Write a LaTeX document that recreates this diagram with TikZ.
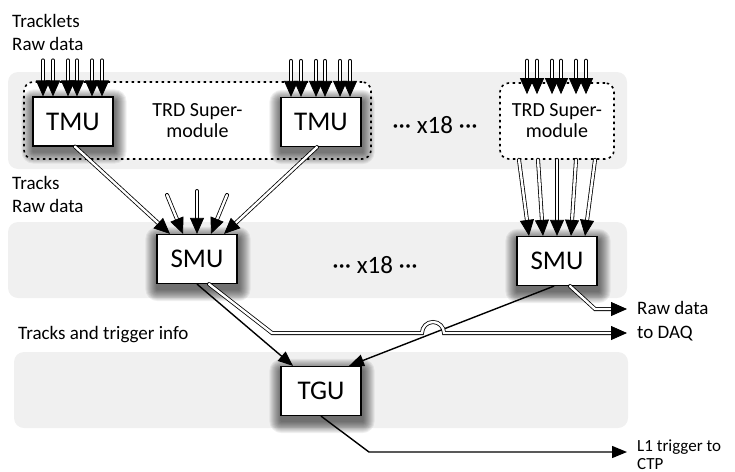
\documentclass[tikz,border=0pt]{standalone}
\usepackage{fontspec}
\setmainfont{Carlito}
\usetikzlibrary{arrows.meta, positioning, calc}

\pgfdeclarelayer{rows}
\pgfdeclarelayer{shade}
\pgfsetlayers{rows,shade,main}

\tikzset{
  band/.style={fill=gray!12, rounded corners=10pt},
  unit/.style={draw, line width=1.2pt, fill=white, minimum width=80pt,
    minimum height=49pt, inner sep=0pt, font=\fontsize{27}{30}\selectfont},
  supmod/.style={draw, line width=1.6pt, dash pattern=on 2.5pt off 3.5pt,
    fill=white, rounded corners=9pt, align=center, inner sep=0pt,
    font=\fontsize{20}{21}\selectfont},
  dbl/.style={double, line width=0.8pt, double distance=2.4pt, line cap=round,
    -{Triangle[length=16pt,width=14pt]}},
  sgl/.style={line width=1.4pt, -{Triangle[length=15pt,width=12pt]}},
  lbl/.style={anchor=west, align=left, inner sep=0pt,
    font=\fontsize{19}{23}\selectfont},
  rep/.style={font=\fontsize{25}{28}\selectfont, inner sep=0pt}
}

\begin{document}
\begin{tikzpicture}[x=1pt, y=-1pt]
\useasboundingbox (0,0) rectangle (735,471);

\begin{pgfonlayer}{rows}
% grey rows
\fill[band] (8,72) rectangle (627,169);
\fill[band] (8,222) rectangle (627,298);
\fill[band] (14,352) rectangle (628,428);
% supermodules
\node[supmod, minimum width=347pt, minimum height=77pt] (smA) at (197.5,120.5) {TRD Super-\\module};
\node[supmod, minimum width=114pt, minimum height=76pt] (smB) at (557,121) {TRD Super-\\module};
\end{pgfonlayer}

% units
\node[unit] (tmuA) at (73,121.5) {TMU};
\node[unit] (tmuB) at (321,122) {TMU};
\node[unit] (smuA) at (197,259) {SMU};
\node[unit] (smuB) at (557,261) {SMU};
\node[unit] (tgu) at (321,391) {TGU};

% soft shadows under the units
\begin{pgfonlayer}{shade}
\foreach \n in {tmuA,tmuB,smuA,smuB,tgu}
  \foreach \k in {1,...,12}
    \fill[black, opacity=0.06, rounded corners=\k pt]
      ($(\n.south west)+(-\k+1,\k+5)$) rectangle ($(\n.north east)+(\k+1,-\k+5)$);
\end{pgfonlayer}

\node[rep] (repA) at (435,125) {··· x18 ···};
\node[rep] (repB) at (375,265) {··· x18 ···};

% labels
\node[lbl] (inLbl) at (12,32.5) {Tracklets\\Raw data};
\node[lbl] (trkLbl) at (12,194) {Tracks\\Raw data};
\node[lbl] (trgLbl) at (18,335) {Tracks and trigger info};
\node[lbl, font=\fontsize{19}{24}\selectfont] (daqLbl) at (637,321) {Raw data\\to DAQ};
\node[lbl, font=\fontsize{17}{18}\selectfont] (ctpLbl) at (637,455) {L1 trigger to\\CTP};

% raw data into the supermodules
\foreach \m in {tmuA,tmuB} {
  \foreach \dx [count=\j] in {-30,-20,-5,4,19,29} {
    \coordinate (in\m\j) at ($(\m.north)+(\dx,-36)$);
    \draw[dbl] (in\m\j) -- ([xshift=\dx pt]\m.north);
  }
}
\foreach \dx [count=\j] in {-30,-20,-5,4,19,29} {
  \coordinate (insmB\j) at ($(smB.north)+(\dx,-21.5)$);
  \draw[dbl] (insmB\j) -- ([xshift=\dx pt, yshift=-12pt]smB.north);
}

% tracks to the SMUs
\draw[dbl] ([xshift=2pt]tmuA.south) -- ([xshift=-27pt]smuA.north);
\draw[dbl] ([xshift=-4pt]tmuB.south) -- ([xshift=27pt]smuA.north);
\coordinate (fanA) at (167,195);
\coordinate (fanB) at (197,191);
\coordinate (fanC) at (227,195);
\draw[dbl] (fanA) -- ([xshift=-14pt]smuA.north);
\draw[dbl] (fanB) -- (smuA.north);
\draw[dbl] (fanC) -- ([xshift=14pt]smuA.north);
\foreach \a/\b in {-38/-28, -19/-14, 0/0, 19/14, 38/28}
  \draw[dbl] ([xshift=\a pt]smB.south) -- ([xshift=\b pt]smuB.north);

% SMU outputs
\draw[sgl] (smuA.south) -- ([xshift=-28pt]tgu.north);
\draw[sgl] ([xshift=-3pt]smuB.south) -- ([xshift=28pt]tgu.north);
\coordinate (daqBend) at (272,333);
\coordinate (jumpL) at (422,333);
\coordinate (daqEnd) at (627,333);
\draw[dbl] ([xshift=12pt]smuA.south) -- (daqBend) -- (jumpL)
  arc[start angle=180, end angle=0, radius=11pt] -- (daqEnd);
\coordinate (rawBend) at (595,309);
\coordinate (rawEnd) at (627,309);
\draw[dbl] ([xshift=13pt]smuB.south) -- (rawBend) -- (rawEnd);

% trigger to CTP
\coordinate (ctpBend) at (369,452);
\coordinate (ctpEnd) at (627,452);
\draw[sgl] (tgu.south) -- (ctpBend) -- (ctpEnd);
\end{tikzpicture}
\end{document}
